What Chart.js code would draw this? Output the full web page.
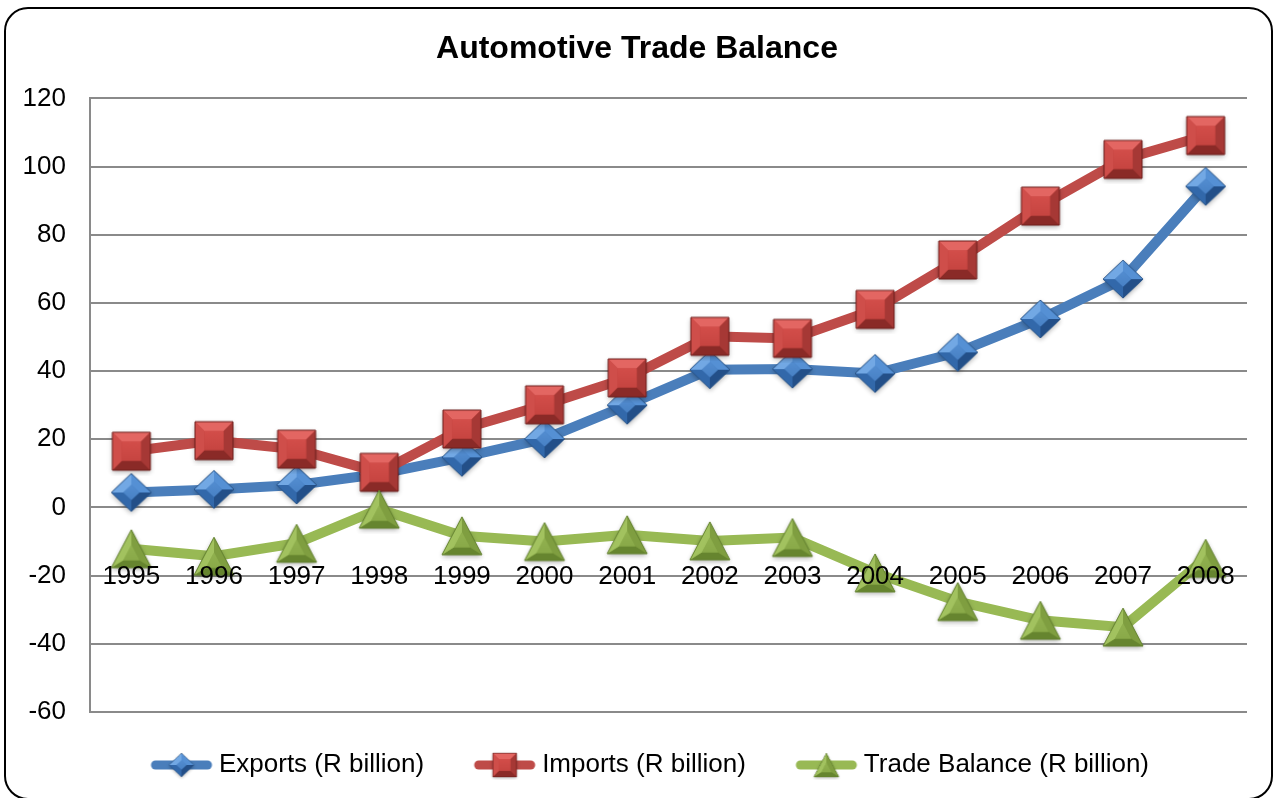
<!DOCTYPE html>
<html>
<head>
<meta charset="utf-8">
<title>Automotive Trade Balance</title>
<script src="https://cdn.jsdelivr.net/npm/chart.js@4.4.1/dist/chart.umd.min.js"></script>
<style>
  html, body { margin: 0; padding: 0; background: #fff; overflow: hidden; }
  #wrap { position: relative; width: 1277px; height: 798px; }
  #frame { position: absolute; left: 4px; top: 7px; width: 1269px; height: 793px; box-sizing: border-box;
           border: 2px solid #000; border-radius: 24px; pointer-events: none; }
  canvas { position: absolute; left: 0; top: 0; }
</style>
</head>
<body>
<div id="wrap">
  <canvas id="tradeChart" width="1277" height="798"></canvas>
  <div id="frame"></div>
</div>
<script>
const years = ['1995', '1996', '1997', '1998', '1999', '2000', '2001', '2002', '2003', '2004', '2005', '2006', '2007', '2008'];
const exportsBn = [4.4, 5.3, 6.6, 9.8, 14.7, 20.1, 30.0, 40.4, 40.6, 39.3, 45.5, 55.3, 67.0, 94.2];
const importsBn = [16.5, 19.6, 17.1, 10.3, 23.0, 30.1, 38.0, 50.2, 49.6, 58.1, 72.6, 88.4, 102.1, 109.1];
const balanceBn = [-12.1, -14.3, -10.5, -0.5, -8.3, -10.0, -8.0, -9.8, -8.8, -19.2, -27.6, -33.1, -35.1, -14.9];

const FONT = "'Liberation Sans', Arial, sans-serif";
Chart.defaults.font.family = FONT;

const blue = '#4a7ebb';
const red = '#be4b48';
const green = '#98b954';

// pyramid-style bevelled marker drawn on a small canvas
function bevelMarker(shape, w, h, k, col) {
  const pad = 6;
  const cv = document.createElement('canvas');
  cv.width = w + pad * 2;
  cv.height = h + pad * 2;
  const ctx = cv.getContext('2d');
  ctx.translate(cv.width / 2, cv.height / 2);

  let outer;
  if (shape === 'square') outer = [[-w / 2, -h / 2], [w / 2, -h / 2], [w / 2, h / 2], [-w / 2, h / 2]];
  else if (shape === 'diamond') outer = [[0, -h / 2], [w / 2, 0], [0, h / 2], [-w / 2, 0]];
  else outer = [[0, -h / 2], [w / 2, h / 2], [-w / 2, h / 2]];

  const cy = shape === 'triangle' ? h / 6 : 0;
  const inner = outer.map(([x, y]) => [x * k, cy + (y - cy) * k]);
  const poly = pts => {
    ctx.beginPath();
    pts.forEach(([x, y], i) => i ? ctx.lineTo(x, y) : ctx.moveTo(x, y));
    ctx.closePath();
  };

  ctx.save();
  ctx.shadowColor = 'rgba(0,0,0,0.3)';
  ctx.shadowBlur = 5;
  ctx.shadowOffsetY = 2;
  poly(outer);
  ctx.fillStyle = col.face;
  ctx.fill();
  ctx.restore();

  for (let i = 0; i < outer.length; i++) {
    const j = (i + 1) % outer.length;
    poly([outer[i], outer[j], inner[j], inner[i]]);
    ctx.fillStyle = col.facets[i];
    ctx.fill();
  }
  poly(inner);
  const g = ctx.createLinearGradient(0, -h / 2, 0, h / 2);
  g.addColorStop(0, col.faceTop);
  g.addColorStop(1, col.face);
  ctx.fillStyle = g;
  ctx.fill();
  poly(outer);
  ctx.strokeStyle = col.edge;
  ctx.lineWidth = 1;
  ctx.stroke();
  return cv;
}

const markers = [
  // diamond facets: top-right, bottom-right, bottom-left, top-left
  bevelMarker('diamond', 40, 38, 0.4, { faceTop: '#5c97da', face: '#3f77bb', edge: '#2a5588',
    facets: ['#5590d4', '#234f88', '#3268aa', '#72a8e4'] }),
  // square facets: top, right, bottom, left
  bevelMarker('square', 38, 38, 0.5, { faceTop: '#d9524e', face: '#c0403c', edge: '#6e1f1d',
    facets: ['#e36662', '#a63835', '#8a2a27', '#cf4e4a'] }),
  // triangle facets: right, bottom, left
  bevelMarker('triangle', 40, 38, 0.4, { faceTop: '#98b955', face: '#86a646', edge: '#62802f',
    facets: ['#7f9e40', '#66852f', '#a2c25f'] })
];

// legend swatch: thick line with a small marker in the middle
function legendIcon(color, marker) {
  const cv = document.createElement('canvas');
  cv.width = 96;
  cv.height = 30;
  const ctx = cv.getContext('2d');
  ctx.strokeStyle = color;
  ctx.lineWidth = 9;
  ctx.lineCap = 'round';
  ctx.beginPath();
  ctx.moveTo(38, 15);
  ctx.lineTo(90, 15);
  ctx.stroke();
  const mw = marker.width * 0.62, mh = marker.height * 0.62;
  ctx.drawImage(marker, 64 - mw / 2, 15 - mh / 2, mw, mh);
  return cv;
}
const legendIcons = [legendIcon(blue, markers[0]), legendIcon(red, markers[1]), legendIcon(green, markers[2])];

new Chart(document.getElementById('tradeChart'), {
  type: 'line',
  data: {
    labels: years,
    datasets: [
      { label: 'Exports (R billion)', data: exportsBn, borderColor: blue, backgroundColor: blue,
        borderWidth: 10, pointStyle: markers[0], pointRadius: 20, tension: 0, order: 3 },
      { label: 'Imports (R billion)', data: importsBn, borderColor: red, backgroundColor: red,
        borderWidth: 10, pointStyle: markers[1], pointRadius: 20, tension: 0, order: 2 },
      { label: 'Trade Balance (R billion)', data: balanceBn, borderColor: green, backgroundColor: green,
        borderWidth: 10, pointStyle: markers[2], pointRadius: 20, tension: 0, order: 1 }
    ]
  },
  options: {
    responsive: false,
    animation: false,
    layout: { padding: { left: 22, right: 25, top: 22, bottom: 10 } },
    plugins: {
      title: {
        display: true,
        text: 'Automotive Trade Balance',
        color: '#000',
        font: { size: 32, weight: 'bold', family: FONT },
        padding: { top: 8, bottom: 30 }
      },
      legend: {
        position: 'bottom',
        labels: {
          usePointStyle: true,
          pointStyleWidth: 81,
          padding: 24,
          color: '#000',
          font: { size: 26 },
          sort: (a, b) => a.datasetIndex - b.datasetIndex,
          generateLabels(chart) {
            const items = Chart.defaults.plugins.legend.labels.generateLabels(chart);
            items.forEach(it => { it.pointStyle = legendIcons[it.datasetIndex]; });
            return items;
          }
        }
      },
      tooltip: { enabled: false }
    },
    scales: {
      x: {
        axis: 'x',
        type: 'category',
        position: { y: 0 },
        offset: true,
        grid: { display: false, drawTicks: false, tickLength: 0 },
        border: { display: false },
        ticks: { z: 1, padding: 54, color: '#000', font: { size: 26 }, maxRotation: 0, autoSkip: false },
        // the year labels sit inside the plot, so they need no side margin
        afterFit(scale) { scale.paddingLeft = 0; scale.paddingRight = 0; }
      },
      // keeps a gap between the plot and the legend
      x2: {
        axis: 'x',
        type: 'category',
        position: 'bottom',
        offset: true,
        grid: { display: false, drawTicks: false },
        border: { display: false },
        ticks: { display: false },
        afterFit(scale) { scale.height = 16; }
      },
      y: {
        min: -60,
        max: 120,
        ticks: { stepSize: 20, padding: 24, color: '#000', font: { size: 26 } },
        grid: { color: '#8a8a8a', lineWidth: 2, drawTicks: false },
        border: { color: '#8a8a8a', width: 2 },
        afterFit(scale) { scale.width = 68; }
      }
    }
  }
});
</script>
</body>
</html>
